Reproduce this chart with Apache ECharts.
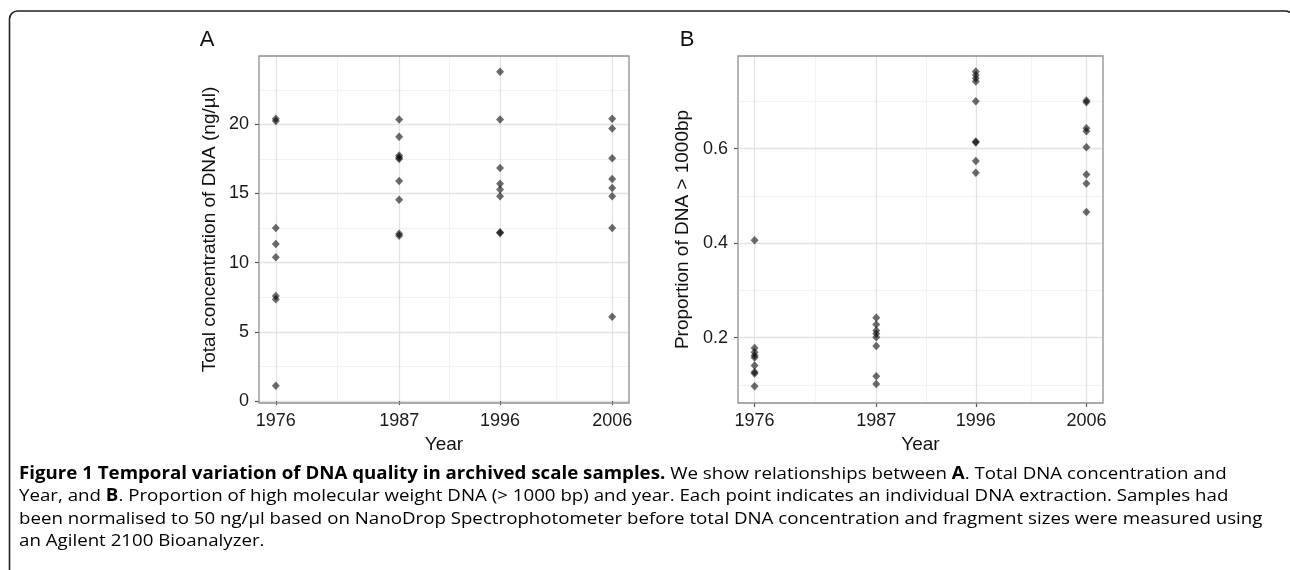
<!DOCTYPE html>
<html><head><meta charset="utf-8">
<script src="https://cdn.jsdelivr.net/npm/echarts@6/dist/echarts.min.js"></script>
<style>html,body{margin:0;padding:0;background:#fff}#c{width:1290px;height:570px}</style>
</head><body><div id="c"></div>
<script>
// ---- data ----
const years = [1976, 1987, 1996, 2006];
const yearMinor = [1981.5, 1991.5, 2001];
const concTicks = [0, 5, 10, 15, 20];
const concMinor = [2.5, 7.5, 12.5, 17.5, 22.5];
const propTicks = [0.2, 0.4, 0.6];
const propMinor = [0.1, 0.3, 0.5, 0.7];

const conc1976 = [20.4, 20.25, 12.5, 11.35, 10.4, 7.6, 7.35, 1.1];
const conc1987 = [20.35, 19.1, 17.75, 17.6, 17.5, 15.9, 14.55, 12.1, 11.95];
const conc1996 = [23.8, 20.35, 16.85, 15.7, 15.3, 14.8, 12.2, 12.15];
const conc2006 = [20.4, 19.7, 17.55, 16.05, 15.4, 14.8, 12.5, 6.1];

const prop1976 = [0.406, 0.178, 0.169, 0.162, 0.158, 0.141, 0.127, 0.124, 0.097];
const prop1987 = [0.242, 0.228, 0.215, 0.208, 0.201, 0.182, 0.118, 0.102];
const prop1996 = [0.763, 0.756, 0.749, 0.742, 0.700, 0.615, 0.613, 0.574, 0.549];
const prop2006 = [0.702, 0.698, 0.643, 0.637, 0.603, 0.545, 0.526, 0.466];

const concByYear = [conc1976, conc1987, conc1996, conc2006];
const propByYear = [prop1976, prop1987, prop1996, prop2006];

function pairs(groups) {
  const out = [];
  groups.forEach((vals, i) => vals.forEach(v => out.push([years[i], v])));
  return out;
}

const FONT = "'Liberation Sans', Arial, Helvetica, sans-serif";
const labelStyle = { fontFamily: FONT, fontSize: 18, color: '#1a1a1a' };
const nameStyle = { fontFamily: FONT, fontSize: 19, color: '#111' };
const majorLine = { show: true, lineStyle: { color: '#e3e3e3', width: 1.3 } };
const minorLine = { show: true, lineStyle: { color: '#f3f3f3', width: 1 } };

function majorX(grid) {
  return {
    type: 'value', gridIndex: grid, min: 1974.5, max: 2007.5, position: 'bottom',
    name: 'Year', nameLocation: 'middle', nameGap: 29, nameTextStyle: nameStyle,
    axisLine: { show: false },
    axisTick: { show: true, length: 4, customValues: years, lineStyle: { color: '#555', width: 1.2 } },
    axisLabel: Object.assign({ margin: 9, customValues: years, formatter: v => String(v) }, labelStyle),
    splitLine: Object.assign({ customValues: years }, majorLine)
  };
}
function minorX(grid) {
  return {
    type: 'value', gridIndex: grid, min: 1974.5, max: 2007.5, position: 'top', z: -1,
    axisLine: { show: false }, axisLabel: { show: false, customValues: yearMinor },
    axisTick: { show: false, customValues: yearMinor },
    splitLine: Object.assign({ customValues: yearMinor }, minorLine)
  };
}
function majorY(grid, min, max, ticks, name, gap) {
  return {
    type: 'value', gridIndex: grid, min: min, max: max, position: 'left',
    name: name, nameLocation: 'middle', nameGap: gap, nameTextStyle: nameStyle,
    axisLine: { show: false },
    axisTick: { show: true, length: 4, customValues: ticks, lineStyle: { color: '#555', width: 1.2 } },
    axisLabel: Object.assign({ margin: 10, customValues: ticks, formatter: v => String(v) }, labelStyle),
    splitLine: Object.assign({ customValues: ticks }, majorLine)
  };
}
function minorY(grid, min, max, ticks) {
  return {
    type: 'value', gridIndex: grid, min: min, max: max, position: 'right', z: -1,
    axisLine: { show: false }, axisLabel: { show: false, customValues: ticks },
    axisTick: { show: false, customValues: ticks },
    splitLine: Object.assign({ customValues: ticks }, minorLine)
  };
}

const pointStyle = { color: 'rgba(0,0,0,0.72)' };

const CAPFONT = "'Open Sans', 'Noto Sans', sans-serif";
const captionRich = {
  n: { fontFamily: CAPFONT, fontSize: 17, color: '#3a3a3a' },
  b: { fontFamily: CAPFONT, fontSize: 17, fontWeight: 'bold', color: '#1a1a1a' }
};
const captionLines = [
  '{b|Figure 1 Temporal variation of DNA quality in archived scale samples.}{n| We show relationships between }{b|A}{n|. Total DNA concentration and}',
  '{n|Year, and }{b|B}{n|. Proportion of high molecular weight DNA (> 1000 bp) and year. Each point indicates an individual DNA extraction. Samples had}',
  '{n|been normalised to 50 ng/µl based on NanoDrop Spectrophotometer before total DNA concentration and fragment sizes were measured using}',
  '{n|an Agilent 2100 Bioanalyzer.}'
];
const captionY = [474, 496.5, 519, 541.5];

const chart = echarts.init(document.getElementById('c'), null, { renderer: 'canvas' });
chart.setOption({
  animation: false,
  backgroundColor: '#fff',
  grid: [
    { left: 259, top: 56, width: 370, height: 347, show: true, borderColor: '#8f8f8f', borderWidth: 1.3, backgroundColor: 'transparent', z: 3 },
    { left: 738, top: 56, width: 365, height: 347, show: true, borderColor: '#8f8f8f', borderWidth: 1.3, backgroundColor: 'transparent', z: 3 }
  ],
  xAxis: [majorX(0), minorX(0), majorX(1), minorX(1)],
  yAxis: [
    majorY(0, -0.14, 24.94, concTicks, 'Total concentration of DNA (ng/µl)', 40),
    minorY(0, -0.14, 24.94, concMinor),
    majorY(1, 0.0616, 0.796, propTicks, 'Proportion of DNA > 1000bp', 46),
    minorY(1, 0.0616, 0.796, propMinor)
  ],
  series: [
    { type: 'scatter', xAxisIndex: 0, yAxisIndex: 0, data: pairs(concByYear), symbol: 'diamond', symbolSize: [8, 8.5], itemStyle: pointStyle, z: 5 },
    { type: 'scatter', xAxisIndex: 2, yAxisIndex: 2, data: pairs(propByYear), symbol: 'diamond', symbolSize: [8, 8.5], itemStyle: pointStyle, z: 5 }
  ],
  graphic: [
    { type: 'rect', shape: { x: 9.5, y: 11, width: 1284, height: 620, r: 8 }, style: { fill: 'none', stroke: '#222', lineWidth: 1.6 } },
    { type: 'text', x: 207, y: 40, style: { text: 'A', font: "22px " + FONT, fill: '#111', align: 'center', verticalAlign: 'middle' } },
    { type: 'text', x: 687, y: 40, style: { text: 'B', font: "22px " + FONT, fill: '#111', align: 'center', verticalAlign: 'middle' } }
  ].concat(captionLines.map((t, i) => ({
    type: 'text', x: 19, y: captionY[i], scaleX: 1.1,
    style: { text: t, rich: captionRich, verticalAlign: 'middle', align: 'left' }
  })))
});
</script></body></html>
